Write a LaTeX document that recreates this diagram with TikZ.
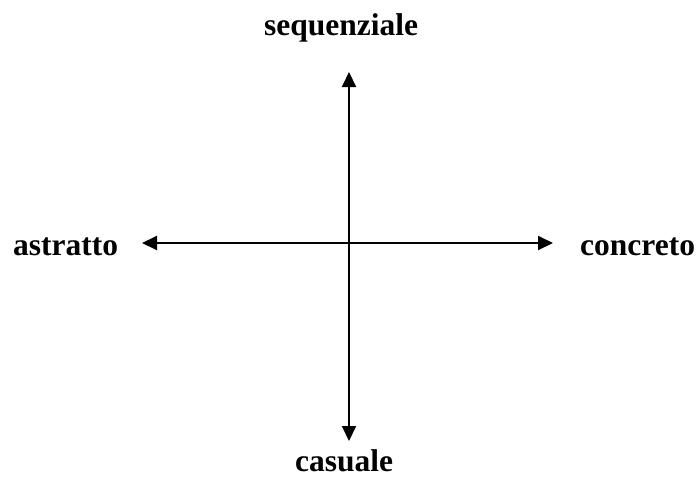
\documentclass[tikz,border=0pt]{standalone}
\usepackage{fontspec}
\setmainfont{Liberation Serif}
\usetikzlibrary{arrows.meta}
\begin{document}
\begin{tikzpicture}[x=1pt,y=-1pt,
  lbl/.style={font=\fontsize{31.5}{36}\selectfont\bfseries, inner sep=0pt, anchor=base west},
  axis/.style={line width=2pt, {Triangle[length=15pt,width=14pt]}-{Triangle[length=15pt,width=14pt]}}]
\useasboundingbox (0,0) rectangle (698,479);
\node[lbl] (seq) at (264,35) {sequenziale};
\node[lbl] (astr) at (13,255) {astratto};
\node[lbl] (conc) at (580,255) {concreto};
\node[lbl] (cas) at (295,471) {casuale};
\coordinate (top) at (349,72);
\coordinate (bot) at (349,441);
\coordinate (left) at (142,243);
\coordinate (right) at (553,243);
\draw[axis] (left) -- (right);
\draw[axis] (top) -- (bot);
\end{tikzpicture}
\end{document}
